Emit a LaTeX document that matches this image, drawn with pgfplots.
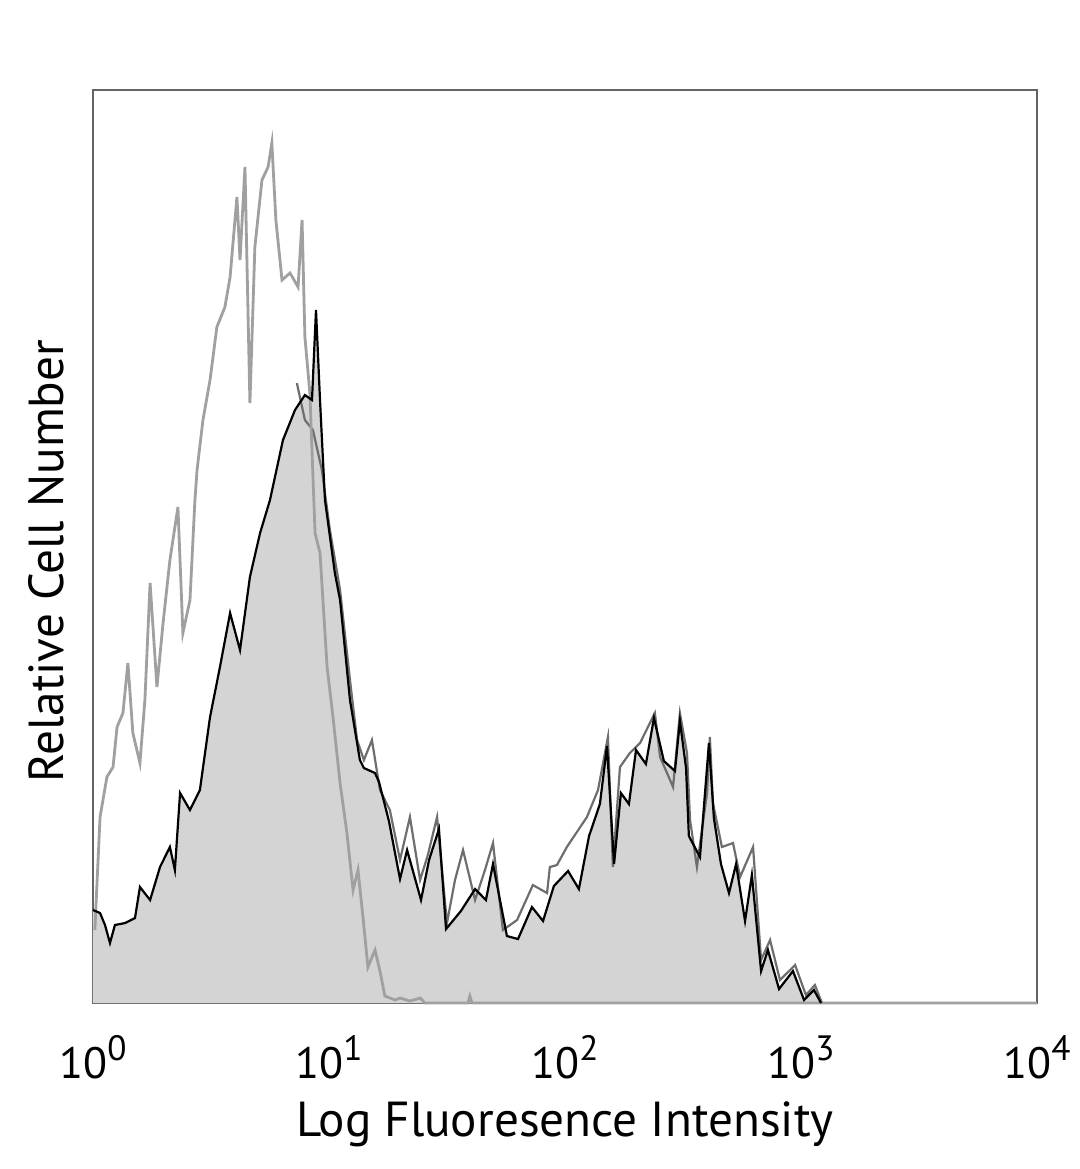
\documentclass[border=0pt]{standalone}
\usepackage{pgfplots}
\pgfplotsset{compat=1.18}
\usepackage{fontspec}
\setmainfont{PT Sans}
\definecolor{fillgray}{RGB}{212,212,212}
\definecolor{ctrlgray}{RGB}{160,160,160}
\definecolor{darkgray}{RGB}{110,110,110}
\definecolor{framegray}{RGB}{100,100,100}
\newcommand{\tl}[1]{10\raisebox{0.8ex}{\fontsize{8.8}{9}\selectfont #1}}
\begin{document}
\begin{tikzpicture}
\begin{axis}[
  scale only axis,
  width=236pt, height=228.25pt,
  xmin=0, xmax=4, ymin=0, ymax=913,
  axis line style={framegray, line width=0.7pt},
  xtick={0,1,2,3,4},
  xticklabels={\tl{0},\tl{1},\tl{2},\tl{3},\tl{4}},
  ytick=\empty,
  major tick length=0pt,
  xticklabel style={font=\fontsize{11}{12}\selectfont, inner sep=0pt, anchor=north, yshift=-8pt},
  xlabel={Log Fluoresence Intensity},
  ylabel={Relative Cell Number},
  xlabel style={font=\fontsize{12.3}{13}\selectfont, at={(rel axis cs:0.5,-0.107)}, anchor=north, inner sep=0pt},
  ylabel style={font=\fontsize{12.3}{13}\selectfont, at={(rel axis cs:-0.030,0.484)}, anchor=south, inner sep=0pt},
  clip=false,
]
\path (rel axis cs:-0.0985,-0.1818) rectangle (rel axis cs:1.0456,1.0986);
% filled histogram
\addplot[draw=none, fill=fillgray, forget plot] coordinates {
(0.000,93) (0.030,90) (0.051,78) (0.072,60) (0.093,78) (0.136,80) (0.178,85) (0.199,116)
(0.242,103) (0.284,136) (0.326,156) (0.347,133) (0.369,210) (0.411,193) (0.453,213)
(0.496,286) (0.538,336) (0.581,390) (0.623,353) (0.665,426) (0.708,470) (0.750,503)
(0.805,563) (0.856,593) (0.898,608) (0.928,603) (0.945,693) (0.962,603) (0.983,503)
(1.025,430) (1.047,403) (1.089,303) (1.131,243) (1.148,235) (1.195,230) (1.212,221)
(1.254,182) (1.301,124) (1.331,153) (1.390,103) (1.424,143) (1.466,174) (1.496,74)
(1.559,92) (1.619,114) (1.665,103) (1.695,139) (1.754,67) (1.801,64) (1.860,96)
(1.907,82) (1.953,117) (2.013,132) (2.059,114) (2.102,167) (2.148,199) (2.178,257)
(2.208,139) (2.237,210) (2.271,199) (2.301,253) (2.343,239) (2.377,285) (2.419,242)
(2.466,232) (2.487,282) (2.513,235) (2.525,167) (2.572,146) (2.610,260) (2.631,185)
(2.661,139) (2.695,110) (2.725,139) (2.763,82) (2.792,128) (2.831,32) (2.860,53)
(2.907,14) (2.966,32) (3.013,3) (3.055,13) (3.085,0) (4.000,0)
} \closedcycle;
% second stained sample (dark gray outline)
\addplot[darkgray, line width=0.55pt] coordinates {
(0.864,620) (0.898,583) (0.932,573) (0.970,533) (1.004,473) (1.047,413) (1.089,323)
(1.119,263) (1.148,243) (1.182,263) (1.216,213) (1.258,193) (1.301,143) (1.343,186)
(1.386,123) (1.419,148) (1.458,186) (1.500,80) (1.534,123) (1.568,153) (1.619,103)
(1.661,133) (1.695,160) (1.737,73) (1.797,83) (1.864,118) (1.924,110) (1.936,136)
(1.966,138) (2.008,156) (2.093,186) (2.140,213) (2.182,266) (2.203,136) (2.233,236)
(2.275,250) (2.318,260) (2.381,290) (2.403,246) (2.458,216) (2.487,290) (2.517,250)
(2.530,183) (2.559,136) (2.602,210) (2.614,266) (2.627,200) (2.665,156) (2.712,160)
(2.742,126) (2.797,156) (2.831,43) (2.869,63) (2.911,23) (2.975,38) (3.021,8)
(3.059,18) (3.089,0)
};
% control (gray outline)
\addplot[ctrlgray, line width=0.7pt] coordinates {
(0.008,73) (0.030,186) (0.059,226) (0.085,236) (0.102,276) (0.127,290) (0.148,340)
(0.169,270) (0.199,240) (0.220,303) (0.242,420) (0.271,316) (0.297,380) (0.326,443)
(0.360,496) (0.381,370) (0.411,403) (0.432,503) (0.441,533) (0.466,583) (0.496,623)
(0.525,676) (0.559,696) (0.581,726) (0.610,806) (0.623,743) (0.644,836) (0.665,600)
(0.686,756) (0.716,823) (0.742,836) (0.758,860) (0.775,783) (0.801,723) (0.835,730)
(0.869,716) (0.886,783) (0.898,666) (0.919,610) (0.941,470) (0.962,450) (0.992,336)
(1.017,286) (1.047,220) (1.076,170) (1.102,113) (1.123,133) (1.144,86) (1.165,36)
(1.195,53) (1.216,32) (1.237,7) (1.280,3) (1.301,5) (1.343,2) (1.386,5) (1.407,0)
(1.589,0) (1.597,7) (1.606,0) (4.000,0)
};
% filled histogram outline
\addplot[black, line width=0.55pt] coordinates {
(0.000,93) (0.030,90) (0.051,78) (0.072,60) (0.093,78) (0.136,80) (0.178,85) (0.199,116)
(0.242,103) (0.284,136) (0.326,156) (0.347,133) (0.369,210) (0.411,193) (0.453,213)
(0.496,286) (0.538,336) (0.581,390) (0.623,353) (0.665,426) (0.708,470) (0.750,503)
(0.805,563) (0.856,593) (0.898,608) (0.928,603) (0.945,693) (0.962,603) (0.983,503)
(1.025,430) (1.047,403) (1.089,303) (1.131,243) (1.148,235) (1.195,230) (1.212,221)
(1.254,182) (1.301,124) (1.331,153) (1.390,103) (1.424,143) (1.466,174) (1.496,74)
(1.559,92) (1.619,114) (1.665,103) (1.695,139) (1.754,67) (1.801,64) (1.860,96)
(1.907,82) (1.953,117) (2.013,132) (2.059,114) (2.102,167) (2.148,199) (2.178,257)
(2.208,139) (2.237,210) (2.271,199) (2.301,253) (2.343,239) (2.377,285) (2.419,242)
(2.466,232) (2.487,282) (2.513,235) (2.525,167) (2.572,146) (2.610,260) (2.631,185)
(2.661,139) (2.695,110) (2.725,139) (2.763,82) (2.792,128) (2.831,32) (2.860,53)
(2.907,14) (2.966,32) (3.013,3) (3.055,13) (3.085,0)
};
\end{axis}
\end{tikzpicture}
\end{document}
